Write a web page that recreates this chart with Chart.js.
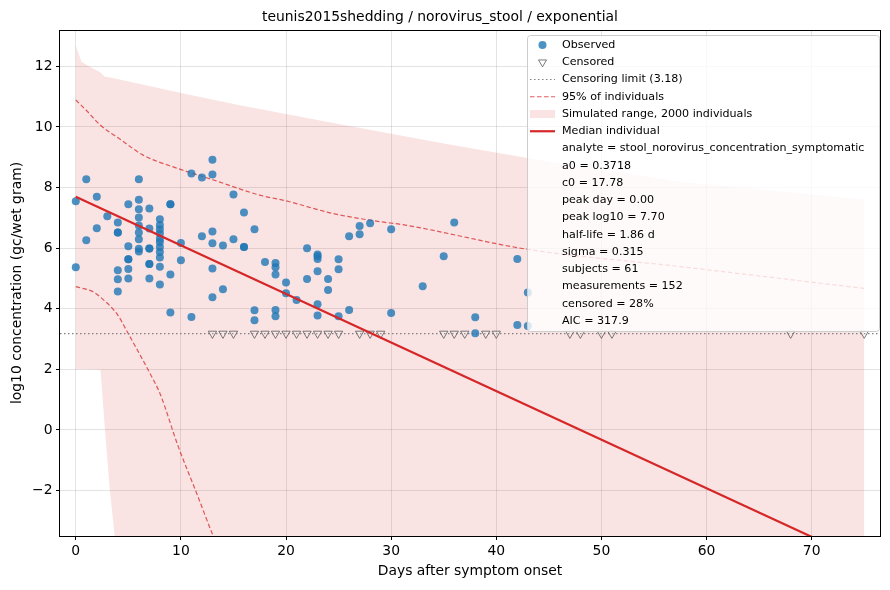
<!DOCTYPE html>
<html>
<head>
<meta charset="utf-8">
<script src="https://cdn.jsdelivr.net/npm/chart.js@4.4.1/dist/chart.umd.min.js"></script>
<style>
  html, body { margin: 0; padding: 0; background: #fff; }
  #wrap { width: 890px; height: 590px; }
</style>
</head>
<body>
<div id="wrap"><canvas id="chart" width="890" height="590"></canvas></div>
<script>
// observed measurements (day after onset, log10 gc/wet gram)
const obsDay = [
  0, 0, 1, 1, 2, 2, 3,
  4, 4, 4, 4, 4, 4,
  5, 5, 5, 5, 5, 5,
  6, 6, 6, 6, 6, 6, 6, 6, 6,
  7, 7, 7, 7, 7, 7, 7,
  8, 8, 8, 8, 8, 8, 8, 8, 8, 8, 8,
  9, 9, 9, 9, 10, 10, 11, 11, 12, 12,
  13, 13, 13, 13, 13, 13, 14, 14, 15, 15,
  16, 16, 16, 17, 17, 17, 18,
  19, 19, 19, 19, 19, 20, 20, 21, 22, 22,
  23, 23, 23, 23, 23, 23, 24, 24, 25, 25, 25,
  26, 26, 27, 27, 28, 30, 30, 33, 35, 36,
  38, 38, 42, 42, 43, 43
];
const obsLog10 = [
  7.55, 5.37, 8.27, 6.26, 7.70, 6.66, 7.05,
  6.85, 6.52, 6.52, 5.27, 4.97, 4.57,
  7.45, 6.06, 5.63, 5.63, 5.31, 5.00,
  8.27, 7.60, 7.28, 7.01, 6.75, 6.52, 6.29, 5.98, 5.89,
  7.31, 6.65, 5.99, 5.99, 5.48, 5.48, 5.00,
  6.95, 6.76, 6.62, 6.48, 6.31, 6.20, 6.04, 5.87, 5.69, 5.39, 4.80,
  7.45, 7.45, 5.13, 3.88, 6.17, 5.60, 8.46, 3.73, 8.33, 6.39,
  8.92, 8.43, 6.55, 6.16, 5.33, 4.38, 6.09, 4.64, 7.77, 6.29,
  7.18, 6.04, 6.04, 6.62, 3.95, 3.62, 5.54,
  5.51, 5.37, 5.13, 3.96, 3.75, 4.87, 4.51, 4.29, 6.00, 4.98,
  5.79, 5.73, 5.64, 5.24, 4.15, 3.78, 4.98, 4.62, 5.63, 5.30, 3.75,
  6.39, 3.96, 6.73, 6.46, 6.82, 6.62, 3.86, 4.74, 5.73, 6.85,
  3.72, 3.19, 5.64, 3.46, 4.54, 3.43
];
// censored samples, drawn at the censoring limit
const censDay = [13, 14, 15, 17, 18, 19, 20, 21, 22, 23, 24, 25, 27, 28, 29,
  35, 36, 37, 39, 40, 47, 48, 50, 51, 68, 75];
const censLimit = 3.18;

// simulated range of 2000 individuals
const bandDay   = [0, 0.54, 1, 2.35, 2.76, 3.24, 3.71, 4.5, 10, 15.6, 25, 35, 45, 57.5, 75];
const bandUpper = [12.70, 12.15, 12.05, 11.8, 11.66, 11.63, 11.6, 11.54, 11.12, 10.72, 10.1, 9.45, 8.85, 8.19, 7.60];
const bandLower = [2.0, 2.0, 2.0, 1.99, 0.1, -1.98, -3.52, -6, -8, -8, -8, -8, -8, -8, -8];

// 95% of individuals
const upDay   = [0, 1, 2.3, 4.35, 6.4, 9.7, 13, 17.5, 20, 24.5, 29, 31, 43, 57.5, 75];
const up95    = [10.89, 10.55, 10.07, 9.56, 9.07, 8.63, 8.26, 7.75, 7.56, 7.14, 6.87, 6.78, 5.96, 5.39, 4.67];
const lowDay  = [0, 1.65, 2.29, 4.0, 4.8, 7.05, 8.0, 9.75, 11.5, 13.1, 14];
const low95   = [4.73, 4.56, 4.40, 3.79, 3.30, 1.87, 1.21, -0.55, -2.09, -3.52, -4.2];

// median individual
const medDay   = [0, 75];
const medLog10 = [7.70, -4.33];

const xTicks = [0, 10, 20, 30, 40, 50, 60, 70];
const yTicks = [-2, 0, 2, 4, 6, 8, 10, 12];

const statLines = [
  'analyte = stool_norovirus_concentration_symptomatic',
  'a0 = 0.3718',
  'c0 = 17.78',
  'peak day = 0.00',
  'peak log10 = 7.70',
  'half-life = 1.86 d',
  'sigma = 0.315',
  'subjects = 61',
  'measurements = 152',
  'censored = 28%',
  'AIC = 317.9'
];

const RED = '#d62728';
const BLUE = 'rgba(31,119,180,0.8)';
const FONT = 'DejaVu Sans';

const pts = (xs, ys) => xs.map((x, i) => ({ x: x, y: ys[i] }));
const fmt = v => String(v).replace('-', '\u2212');

const frame = {
  id: 'frame',
  afterDatasetsDraw(chart) {
    const { ctx, chartArea: a } = chart;
    ctx.save();
    ctx.strokeStyle = '#000';
    ctx.lineWidth = 1;
    ctx.strokeRect(Math.round(a.left) - 0.5, Math.round(a.top) + 0.5,
      Math.round(a.right - a.left) + 1, Math.round(a.bottom - a.top));
    ctx.restore();
  }
};

const legendBox = {
  id: 'legendBox',
  afterDraw(chart) {
    const ctx = chart.ctx;
    const x0 = 527.5, y0 = 35.5, w = 352, h = 296, r = 3;
    ctx.save();
    ctx.beginPath();
    ctx.moveTo(x0 + r, y0);
    ctx.arcTo(x0 + w, y0, x0 + w, y0 + h, r);
    ctx.arcTo(x0 + w, y0 + h, x0, y0 + h, r);
    ctx.arcTo(x0, y0 + h, x0, y0, r);
    ctx.arcTo(x0, y0, x0 + w, y0, r);
    ctx.closePath();
    ctx.fillStyle = 'rgba(255,255,255,0.8)';
    ctx.fill();
    ctx.strokeStyle = '#cccccc';
    ctx.lineWidth = 1;
    ctx.stroke();

    const labels = chart.data.datasets.filter(d => d.legendRow !== undefined)
      .sort((a, b) => a.legendRow - b.legendRow);
    const rows = labels.map(d => d.label).concat(statLines);
    const tx = 562, hx0 = 530, hx1 = 555, hc = 542.5;
    const rowY = i => 45 + i * 17.25;
    ctx.font = '11.1px "' + FONT + '"';
    ctx.fillStyle = '#000';
    ctx.textBaseline = 'middle';
    rows.forEach((t, i) => ctx.fillText(t, tx, rowY(i)));

    // handles
    let y = rowY(0);
    ctx.fillStyle = BLUE;
    ctx.beginPath(); ctx.arc(hc, y, 4, 0, Math.PI * 2); ctx.fill();
    y = rowY(1);
    ctx.strokeStyle = 'rgba(90,90,90,0.8)';
    ctx.lineWidth = 1;
    ctx.beginPath();
    ctx.moveTo(hc - 4, y - 2.3); ctx.lineTo(hc + 4, y - 2.3); ctx.lineTo(hc, y + 4.6); ctx.closePath();
    ctx.stroke();
    y = rowY(2);
    ctx.strokeStyle = '#808080'; ctx.lineWidth = 1.2; ctx.setLineDash([1.5, 2.5]);
    ctx.beginPath(); ctx.moveTo(hx0, y); ctx.lineTo(hx1, y); ctx.stroke();
    y = rowY(3);
    ctx.strokeStyle = 'rgba(214,39,40,0.75)'; ctx.setLineDash([4.5, 2.5]);
    ctx.beginPath(); ctx.moveTo(hx0, y); ctx.lineTo(hx1, y); ctx.stroke();
    ctx.setLineDash([]);
    y = rowY(4);
    ctx.fillStyle = 'rgba(214,39,40,0.13)';
    ctx.fillRect(hx0, y - 4, hx1 - hx0, 8);
    y = rowY(5);
    ctx.strokeStyle = RED; ctx.lineWidth = 2.2;
    ctx.beginPath(); ctx.moveTo(hx0, y); ctx.lineTo(hx1, y); ctx.stroke();
    ctx.restore();
  }
};

new Chart(document.getElementById('chart'), {
  type: 'scatter',
  data: {
    datasets: [
      {
        type: 'line',
        label: 'Simulated range, 2000 individuals',
        legendRow: 4,
        data: pts(bandDay, bandUpper),
        borderColor: 'rgba(0,0,0,0)',
        borderWidth: 0,
        pointRadius: 0,
        backgroundColor: 'rgba(214,39,40,0.13)',
        fill: '+1',
        order: 10,
      },
      {
        type: 'line',
        label: 'band lower',
        data: pts(bandDay, bandLower),
        borderColor: 'rgba(0,0,0,0)',
        borderWidth: 0,
        pointRadius: 0,
        fill: false,
        order: 10,
      },
      {
        type: 'line',
        label: '95% of individuals',
        legendRow: 3,
        data: pts(upDay, up95),
        borderColor: 'rgba(214,39,40,0.75)',
        borderWidth: 1.2,
        borderDash: [4.5, 2.5],
        pointRadius: 0,
        cubicInterpolationMode: 'monotone',
        fill: false,
        order: 8,
      },
      {
        type: 'line',
        label: '95% lower',
        data: pts(lowDay, low95),
        borderColor: 'rgba(214,39,40,0.75)',
        borderWidth: 1.2,
        borderDash: [4.5, 2.5],
        pointRadius: 0,
        cubicInterpolationMode: 'monotone',
        fill: false,
        order: 8,
      },
      {
        type: 'line',
        label: 'Censoring limit (' + censLimit.toFixed(2) + ')',
        legendRow: 2,
        data: [{ x: -1.5, y: censLimit }, { x: 76.5, y: censLimit }],
        borderColor: '#808080',
        borderWidth: 1.2,
        borderDash: [1.5, 2.5],
        pointRadius: 0,
        fill: false,
        order: 7,
      },
      {
        label: 'Observed',
        legendRow: 0,
        data: pts(obsDay, obsLog10),
        backgroundColor: BLUE,
        borderColor: BLUE,
        borderWidth: 0,
        pointRadius: 4,
        order: 6,
      },
      {
        label: 'Censored',
        legendRow: 1,
        data: censDay.map(d => ({ x: d, y: censLimit })),
        pointStyle: 'triangle',
        rotation: 180,
        pointRadius: 4.8,
        backgroundColor: 'rgba(255,255,255,0.15)',
        borderColor: 'rgba(90,90,90,0.8)',
        borderWidth: 1,
        order: 5,
      },
      {
        type: 'line',
        label: 'Median individual',
        legendRow: 5,
        data: pts(medDay, medLog10),
        borderColor: RED,
        borderWidth: 2.2,
        pointRadius: 0,
        fill: false,
        order: 4,
      },
    ],
  },
  options: {
    responsive: false,
    animation: false,
    events: [],
    layout: { padding: { left: 0, right: 10, top: 0, bottom: 0 } },
    plugins: {
      legend: { display: false },
      tooltip: { enabled: false },
      title: {
        display: true,
        text: 'teunis2015shedding / norovirus_stool / exponential',
        color: '#000',
        font: { family: FONT, size: 13.9, weight: 'normal', lineHeight: 1.2 },
        padding: { top: 9.5, bottom: 3.8 },
      },
    },
    scales: {
      x: {
        type: 'linear',
        min: -1.5,
        max: 76.5,
        afterBuildTicks: s => { s.ticks = xTicks.map(v => ({ value: v })); },
        afterFit: s => { s.height = 54; },
        border: { display: false },
        grid: { color: 'rgba(176,176,176,0.35)', tickColor: '#000', tickLength: 4, lineWidth: 1 },
        ticks: {
          color: '#000',
          padding: 3,
          maxRotation: 0,
          autoSkip: false,
          font: { family: FONT, size: 13.9 },
          callback: v => fmt(v),
        },
        title: {
          display: true,
          text: 'Days after symptom onset',
          color: '#000',
          font: { family: FONT, size: 13.9 },
          padding: { top: 0, bottom: 10 },
        },
      },
      y: {
        type: 'linear',
        min: -3.5,
        max: 13.2,
        afterBuildTicks: s => { s.ticks = yTicks.map(v => ({ value: v })); },
        afterFit: s => { s.width = 60; },
        border: { display: false },
        grid: { color: 'rgba(176,176,176,0.35)', tickColor: '#000', tickLength: 4, lineWidth: 1 },
        ticks: {
          color: '#000',
          padding: 3.5,
          autoSkip: false,
          font: { family: FONT, size: 13.9 },
          callback: v => fmt(v),
        },
        title: {
          display: true,
          text: 'log10 concentration (gc/wet gram)',
          color: '#000',
          font: { family: FONT, size: 13.9 },
          padding: { top: 8.7, bottom: 0 },
        },
      },
    },
  },
  plugins: [frame, legendBox],
});
</script>
</body>
</html>
